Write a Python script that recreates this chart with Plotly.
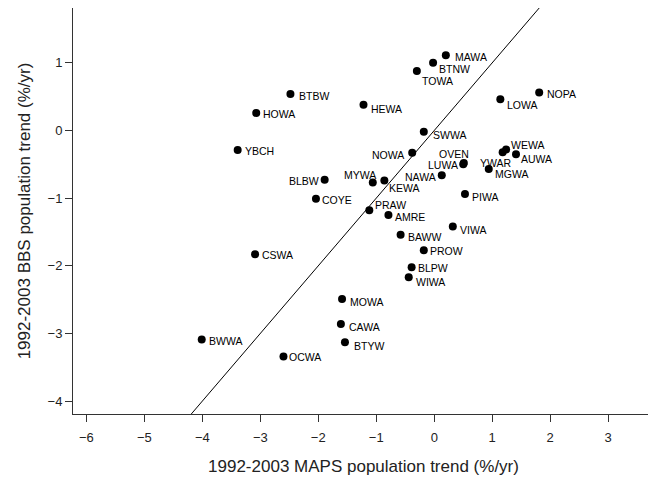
import plotly.graph_objects as go

species = ["BTBW", "HOWA", "YBCH", "BLBW", "COYE", "MAWA", "BTNW", "TOWA", "NOPA", "LOWA",
           "HEWA", "SWWA", "NOWA", "WEWA", "YWAR", "AUWA", "OVEN", "LUWA", "MGWA", "NAWA",
           "MYWA", "KEWA", "PIWA", "PRAW", "AMRE", "VIWA", "BAWW", "PROW", "BLPW", "WIWA",
           "MOWA", "CAWA", "BTYW", "CSWA", "BWWA", "OCWA"]
maps_trend = [-2.48, -3.07, -3.39, -1.89, -2.04, 0.20, -0.02, -0.30, 1.81, 1.14,
              -1.22, -0.18, -0.38, 1.24, 1.18, 1.41, 0.51, 0.50, 0.94, 0.13,
              -1.06, -0.86, 0.53, -1.12, -0.79, 0.32, -0.58, -0.18, -0.39, -0.44,
              -1.59, -1.61, -1.54, -3.09, -4.01, -2.60]
bbs_trend = [0.54, 0.26, -0.29, -0.73, -1.01, 1.11, 1.00, 0.88, 0.56, 0.46,
             0.38, -0.02, -0.33, -0.28, -0.32, -0.35, -0.48, -0.50, -0.57, -0.66,
             -0.77, -0.74, -0.94, -1.18, -1.25, -1.42, -1.54, -1.77, -2.02, -2.17,
             -2.49, -2.86, -3.13, -1.83, -3.09, -3.34]

# label placement (pixel offsets from the dot, anchor side) - styling only
label_anchor = ["left", "left", "left", "right", "left", "left", "left", "left", "left", "left",
                "left", "left", "right", "left", "center", "left", "right", "right", "left", "right",
                "right", "left", "left", "left", "left", "left", "left", "left", "left", "left",
                "left", "left", "left", "left", "left", "left"]
label_dx = [8, 6, 6, -5, 5, 8, 5, 4, 7, 6,
            6, 8, -7, 4, -7, 4, 6, -4, 5, -5,
            4, 4, 6, 5, 6, 6, 6, 5, 5, 6,
            7, 7, 8, 6, 6, 5]
label_dy = [2, 1, 1, 1, 1, 2, 6, 10, 1, 6,
            4, 3, 2, -4, 11, 5, -9, 1, 5, 2,
            -8, 7, 3, -5, 2, 3, 2, 1, 1, 5,
            3, 3, 4, 1, 1, 1]

x_ticks = [-6, -5, -4, -3, -2, -1, 0, 1, 2, 3]
y_ticks = [-4, -3, -2, -1, 0, 1]
x_range = [-6.23, 3.79]
y_range = [-4.19, 1.81]
ref_line = [-4.19, 1.81]

FONT = "Liberation Sans, Arial, sans-serif"

fig = go.Figure()
fig.add_trace(go.Scatter(
    x=ref_line, y=ref_line, mode="lines",
    line=dict(color="black", width=1), showlegend=False, hoverinfo="skip"))
fig.add_trace(go.Scatter(
    x=maps_trend, y=bbs_trend, mode="markers",
    marker=dict(color="black", size=8), showlegend=False, text=species))

for name, xv, yv, anc, dx, dy in zip(species, maps_trend, bbs_trend, label_anchor, label_dx, label_dy):
    fig.add_annotation(
        x=xv, y=yv, text=name, showarrow=False,
        xanchor=anc, yanchor="middle", xshift=dx, yshift=-dy,
        borderpad=0,
        font=dict(family=FONT, size=10.5, color="black"))

axis_common = dict(
    showgrid=False, zeroline=False, showline=True, mirror=True,
    linecolor="#333", linewidth=1, ticks="outside", ticklen=7, tickcolor="#333",
    tickfont=dict(family=FONT, size=13, color="#222"),
)
fig.update_xaxes(range=x_range, tickvals=x_ticks, ticklabelstandoff=4, **axis_common,
                 title=dict(text="1992-2003 MAPS population trend (%/yr)",
                            font=dict(family=FONT, size=17, color="#222"),
                            standoff=16))
fig.update_yaxes(range=y_range, tickvals=y_ticks, **axis_common,
                 title=dict(text="1992-2003 BBS population trend (%/yr)",
                            font=dict(family=FONT, size=17, color="#222"),
                            standoff=12))
# page body has an 8px default margin, so the figure is 8px smaller and margins shifted
fig.update_layout(
    width=648, height=477,
    margin=dict(l=65, r=2, t=0, b=71),
    plot_bgcolor="white", paper_bgcolor="white",
)
fig.write_html("out.html")
